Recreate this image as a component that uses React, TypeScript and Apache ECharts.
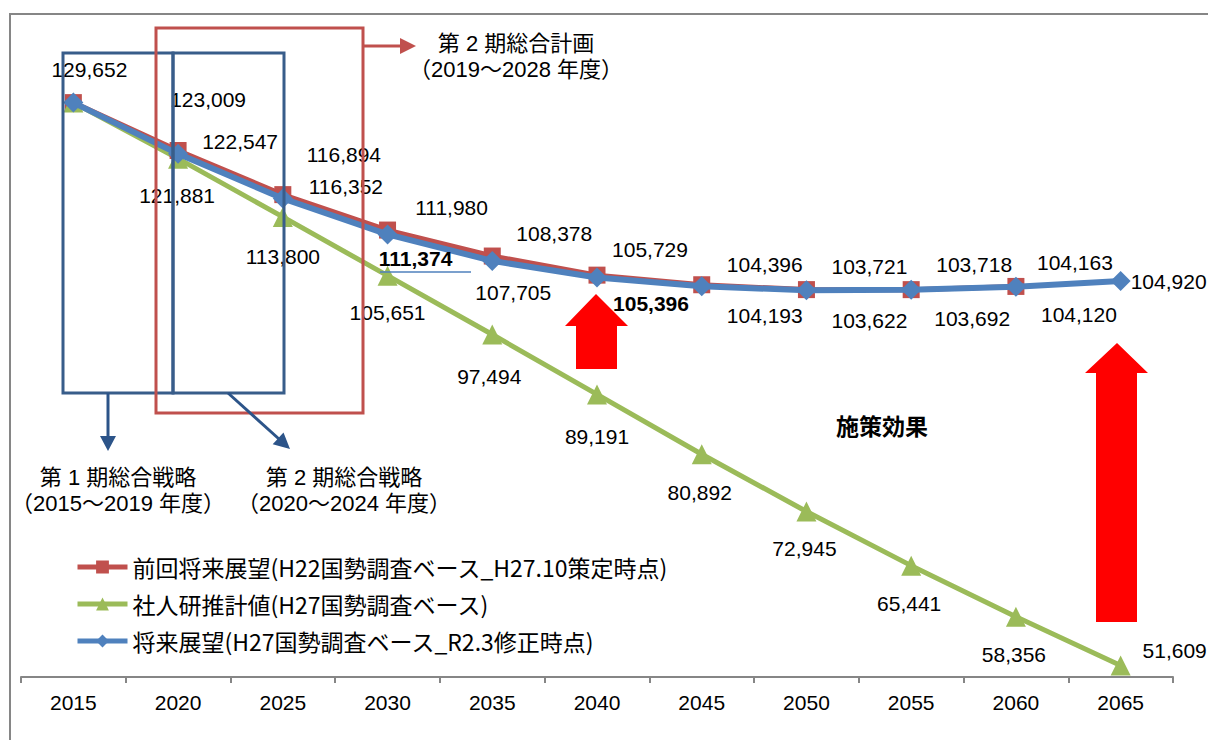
import React, { useEffect, useRef } from "react";
import * as echarts from "echarts";

const years = ["2015", "2020", "2025", "2030", "2035", "2040", "2045", "2050", "2055", "2060", "2065"];
const seriesNames = [
  "前回将来展望(H22国勢調査ベース_H27.10策定時点)",
  "社人研推計値(H27国勢調査ベース)",
  "将来展望(H27国勢調査ベース_R2.3修正時点)",
];
const prevOutlook = [129652, 123009, 116894, 111980, 108378, 105729, 104396, 103721, 103718, 104163];
const ipssEstimate = [129652, 121881, 113800, 105651, 97494, 89191, 80892, 72945, 65441, 58356, 51609];
const newOutlook = [129652, 122547, 116352, 111374, 107705, 105396, 104193, 103622, 103692, 104120, 104920];

// label placement (pixel offsets from the marker centre)
const redOffsets: (number[] | null)[] = [[16, -33], [30, -51], [61, -40], [64, -23], [62, -23], [53, -26], [63, -20], [63, -23], [63, -25], [59, -24]];
const greenOffsets: (number[] | null)[] = [null, [-1, 37], [0, 40], [0, 37], [-3, 42], [0, 42], [-2, 38], [-2, 37], [-2, 38], [-2, 38], [54, -15]];
const blueOffsets: (number[] | null)[] = [null, [62, -12], [63, -12], [28, 24], [21, 32], [54, 26], [63, 29], [63, 30], [61, 29], [63, 28], [48, 1]];
const blueBold = [3, 5];

const RED = "#C0504D";
const GREEN = "#9BBB59";
const BLUE = "#4F81BD";
const BOX_BLUE = "#385D8A";
const ARROW_BLUE = "#2C5489";
const NUM_FONT = "'Liberation Sans', 'Noto Sans CJK JP', sans-serif";
const JP_FONT = "'Noto Sans CJK JP', sans-serif";

function buildData(values: number[], offsets: (number[] | null)[], bold: number[] = []) {
  return values.map((v, i) => {
    const off = offsets[i];
    if (!off) return { value: v, label: { show: false } };
    return {
      value: v,
      label: {
        show: true,
        position: "inside",
        offset: off,
        fontWeight: bold.includes(i) ? "bold" : "normal",
      },
    };
  });
}

const labelBase = {
  show: false,
  color: "#000",
  fontSize: 21,
  fontFamily: NUM_FONT,
  textBorderWidth: 0,
  formatter: (p: any) => Number(p.value).toLocaleString("en-US"),
};

export default function App() {
  const ref = useRef<HTMLDivElement>(null);
  useEffect(() => {
    if (!ref.current) return;
    const chart = echarts.init(ref.current, undefined, { renderer: "svg" });
    const txt = (x: number, y: number, text: string, extra: any = {}) => ({
      type: "text",
      x,
      y,
      silent: true,
      z: 20,
      style: {
        text,
        fill: "#000",
        fontSize: 22,
        lineHeight: 26,
        fontFamily: NUM_FONT,
        align: "center",
        verticalAlign: "middle",
        ...extra,
      },
    });
    chart.setOption({
      animation: false,
      backgroundColor: "#fff",
      grid: { left: 21, right: 35, top: 28, bottom: 63 },
      xAxis: {
        type: "category",
        data: years,
        boundaryGap: true,
        axisLine: { lineStyle: { color: "#868686", width: 2 } },
        axisTick: { show: true, length: 6, lineStyle: { color: "#868686", width: 2 } },
        axisLabel: { color: "#000", fontSize: 21, fontFamily: NUM_FONT, margin: 15 },
      },
      yAxis: { type: "value", min: 50000, max: 140000, show: false, splitLine: { show: false } },
      legend: {
        orient: "vertical",
        left: 75,
        top: 555,
        padding: 0,
        itemWidth: 50,
        itemHeight: 16,
        itemGap: 13,
        lineStyle: { width: 5 },
        textStyle: { color: "#000", fontSize: 23, fontFamily: JP_FONT, lineHeight: 24 },
        data: seriesNames,
      },
      series: [
        {
          name: seriesNames[0],
          type: "line",
          data: buildData(prevOutlook, redOffsets),
          symbol: "rect",
          symbolSize: 17,
          itemStyle: { color: RED },
          lineStyle: { color: RED, width: 5 },
          label: labelBase,
          silent: true,
          z: 2,
        },
        {
          name: seriesNames[1],
          type: "line",
          data: buildData(ipssEstimate, greenOffsets),
          symbol: "triangle",
          symbolSize: 20,
          itemStyle: { color: GREEN },
          lineStyle: { color: GREEN, width: 5 },
          label: labelBase,
          silent: true,
          z: 2,
        },
        {
          name: seriesNames[2],
          type: "line",
          data: buildData(newOutlook, blueOffsets, blueBold),
          symbol: "diamond",
          symbolSize: 20,
          itemStyle: { color: BLUE },
          lineStyle: { color: BLUE, width: 6 },
          label: labelBase,
          silent: true,
          z: 3,
        },
      ],
      graphic: [
        { type: "polyline", silent: true, shape: { points: [[1208, 14], [10, 14], [10, 740]] }, style: { stroke: "#868686", lineWidth: 2, fill: "none" } },
        { type: "rect", silent: true, z: 10, shape: { x: 63, y: 53, width: 110, height: 340 }, style: { stroke: BOX_BLUE, lineWidth: 3, fill: "none" } },
        { type: "rect", silent: true, z: 10, shape: { x: 173, y: 53, width: 111, height: 340 }, style: { stroke: BOX_BLUE, lineWidth: 3, fill: "none" } },
        { type: "rect", silent: true, z: 10, shape: { x: 156, y: 28, width: 207, height: 385 }, style: { stroke: RED, lineWidth: 3, fill: "none" } },
        { type: "line", silent: true, z: 10, shape: { x1: 363, y1: 46, x2: 402, y2: 46 }, style: { stroke: RED, lineWidth: 3 } },
        { type: "polygon", silent: true, z: 10, shape: { points: [[400, 38], [416, 46], [400, 54]] }, style: { fill: RED } },
        { type: "line", silent: true, z: 10, shape: { x1: 108, y1: 393, x2: 108, y2: 438 }, style: { stroke: ARROW_BLUE, lineWidth: 3 } },
        { type: "polygon", silent: true, z: 10, shape: { points: [[100, 436], [108, 451], [116, 436]] }, style: { fill: ARROW_BLUE } },
        { type: "line", silent: true, z: 10, shape: { x1: 228, y1: 393, x2: 279, y2: 439 }, style: { stroke: ARROW_BLUE, lineWidth: 3 } },
        { type: "polygon", silent: true, z: 10, shape: { points: [[272.7, 444.2], [290, 449], [283.5, 432.4]] }, style: { fill: ARROW_BLUE } },
        { type: "line", silent: true, z: 10, shape: { x1: 380, y1: 272, x2: 471, y2: 272 }, style: { stroke: BLUE, lineWidth: 1.5 } },
        { type: "polygon", silent: true, z: 10, shape: { points: [[596, 294], [628, 326], [617, 326], [617, 369], [576, 369], [576, 326], [565, 326]] }, style: { fill: "#FF0000" } },
        { type: "polygon", silent: true, z: 10, shape: { points: [[1117, 343], [1148, 373], [1137, 373], [1137, 622], [1096, 622], [1096, 373], [1085, 373]] }, style: { fill: "#FF0000" } },
        txt(516, 56, "第 2 期総合計画\n（2019～2028 年度）"),
        txt(118, 490, "第 1 期総合戦略\n（2015～2019 年度）"),
        txt(344, 490, "第 2 期総合戦略\n（2020～2024 年度）"),
        txt(882, 425, "施策効果", { fontWeight: "bold", fontSize: 23, fontFamily: JP_FONT }),
      ],
    });
    return () => chart.dispose();
  }, []);
  return (
    <div
      ref={ref}
      style={{ position: "fixed", left: 0, top: 0, width: 1208, height: 740, background: "#fff" }}
    />
  );
}
